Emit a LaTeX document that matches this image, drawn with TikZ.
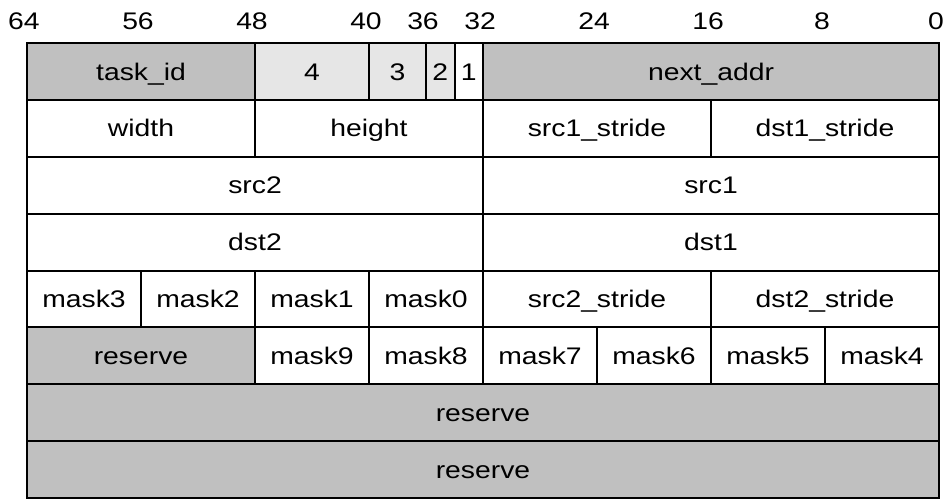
\documentclass[tikz,border=0pt]{standalone}
\usepackage{fontspec}
\setmainfont{Liberation Sans}[FakeStretch=1.18]
\definecolor{darkg}{HTML}{C0C0C0}
\definecolor{lightg}{HTML}{E6E6E6}
\tikzset{
  fldbox/.style={draw=black, line width=1.5pt, inner sep=0pt, outer sep=0pt, font=\fontsize{18}{20}\selectfont, text=black, text height=12.9pt, text depth=0pt},
  bitlab/.style={font=\fontsize{18}{20}\selectfont, inner sep=0pt, text height=12.9pt, text depth=0pt}
}
\newcommand\fld[6]{%
  \pgfmathsetmacro\fxa{939-#2*14.25}%
  \pgfmathsetmacro\fxb{939-#3*14.25}%
  \pgfmathsetmacro\fya{43+#4*56.875}%
  \pgfmathsetmacro\fcx{(\fxa+\fxb)/2}%
  \pgfmathsetmacro\fwid{(\fxb-\fxa)*0.75}%
  \node[fldbox, fill=#5, minimum width=\fwid pt, minimum height=42.656pt] (#1) at (\fcx,\fya+28.4375) {#6};%
}
\newcommand\blab[2]{%
  \pgfmathsetmacro\fxa{939-#1*14.25-3}%
  \node[bitlab] (#2) at (\fxa,20.5) {#1};%
}
\begin{document}
\begin{tikzpicture}[x=0.75pt,y=-0.75pt]
\useasboundingbox (0,0) rectangle (950,500);
% bit labels
\blab{64}{b64}\blab{56}{b56}\blab{48}{b48}\blab{40}{b40}\blab{36}{b36}
\blab{32}{b32}\blab{24}{b24}\blab{16}{b16}\blab{8}{b8}\blab{0}{b0}
% row 0
\fld{taskid}{64}{48}{0}{darkg}{task\_id}
\fld{f4}{48}{40}{0}{lightg}{4}
\fld{f3}{40}{36}{0}{lightg}{3}
\fld{f2}{36}{34}{0}{lightg}{2}
\fld{f1}{34}{32}{0}{white}{1}
\fld{nextaddr}{32}{0}{0}{darkg}{next\_addr}
% row 1
\fld{width}{64}{48}{1}{white}{width}
\fld{height}{48}{32}{1}{white}{height}
\fld{srcones}{32}{16}{1}{white}{src1\_stride}
\fld{dstones}{16}{0}{1}{white}{dst1\_stride}
% row 2
\fld{srctwo}{64}{32}{2}{white}{src2}
\fld{srcone}{32}{0}{2}{white}{src1}
% row 3
\fld{dsttwo}{64}{32}{3}{white}{dst2}
\fld{dstone}{32}{0}{3}{white}{dst1}
% row 4
\fld{mthree}{64}{56}{4}{white}{mask3}
\fld{mtwo}{56}{48}{4}{white}{mask2}
\fld{mone}{48}{40}{4}{white}{mask1}
\fld{mzero}{40}{32}{4}{white}{mask0}
\fld{srctwos}{32}{16}{4}{white}{src2\_stride}
\fld{dsttwos}{16}{0}{4}{white}{dst2\_stride}
% row 5
\fld{resa}{64}{48}{5}{darkg}{reserve}
\fld{mnine}{48}{40}{5}{white}{mask9}
\fld{meight}{40}{32}{5}{white}{mask8}
\fld{mseven}{32}{24}{5}{white}{mask7}
\fld{msix}{24}{16}{5}{white}{mask6}
\fld{mfive}{16}{8}{5}{white}{mask5}
\fld{mfour}{8}{0}{5}{white}{mask4}
% rows 6,7
\fld{resb}{64}{0}{6}{darkg}{reserve}
\fld{resc}{64}{0}{7}{darkg}{reserve}
\end{tikzpicture}
\end{document}
